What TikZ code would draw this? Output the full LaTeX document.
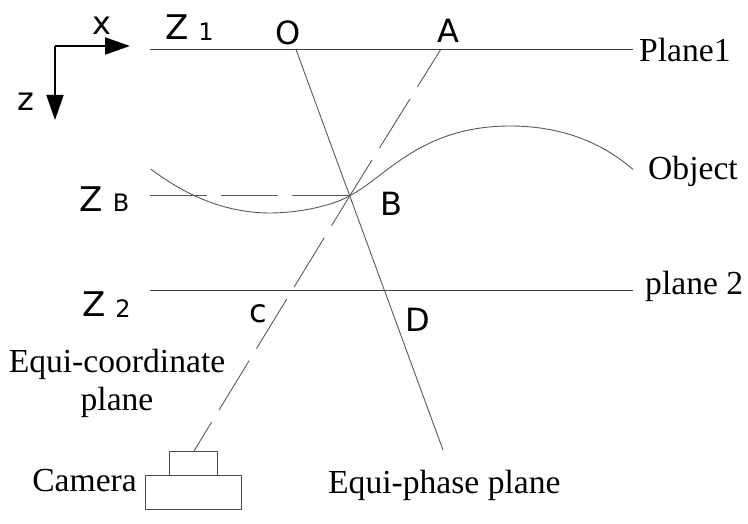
\documentclass[tikz,border=0pt]{standalone}
\usepackage{fontspec}
\setmainfont{Liberation Serif}
\newfontfamily\labelfont{DejaVu Sans}
\usetikzlibrary{positioning,arrows.meta}
\tikzset{
  plane/.style={draw=black!75, line width=0.9pt},
  ray/.style={draw=black!65, line width=0.9pt},
  axis/.style={line width=1.9pt, -{Triangle[length=25pt,width=17pt]}},
  serif/.style={inner sep=0pt, font=\fontsize{33.6}{36}\selectfont},
  big/.style={inner sep=0pt, font=\labelfont\fontsize{34}{34}\selectfont},
  mid/.style={inner sep=0pt, font=\labelfont\fontsize{32}{32}\selectfont},
  sub/.style={inner sep=0pt, font=\labelfont\fontsize{24}{24}\selectfont}
}
\begin{document}
\begin{tikzpicture}[x=1pt, y=-1pt]
\useasboundingbox (0,0) rectangle (748,524);

% axes
\coordinate (corner) at (55,46);
\coordinate (xend) at (130,46);
\coordinate (zend) at (55,120);
\draw[axis] (corner) -- (xend);
\draw[axis] (corner) -- (zend);
\node[mid] (x) at (102,26) {x};
\node[mid] (z) at (26,102) {z};

% planes
\coordinate (p1l) at (150,49.5);
\coordinate (p1r) at (633,49.5);
\coordinate (p2l) at (150,290);
\coordinate (p2r) at (633,290);
\coordinate (zbl) at (150,195.5);
\coordinate (b) at (350,195.5);
\coordinate (o) at (296,49.5);
\coordinate (a) at (440.7,49.5);
\coordinate (d) at (443,450);
\coordinate (lens) at (194,451);
\draw[plane] (p1l) -- (p1r);
\draw[plane] (p2l) -- (p2r);
\draw[ray] (o) -- (d);
\draw[ray, dash pattern=on 57pt off 14pt] (zbl) -- (b);
\draw[ray, dash pattern=on 58pt off 14pt, dash phase=14pt] (a) -- (b);
\draw[ray, dash pattern=on 58pt off 14pt, dash phase=24pt] (lens) -- (b);

% object
\coordinate (s1) at (150.7,169);
\coordinate (s2) at (270,213);
\coordinate (s3) at (510,126);
\coordinate (s4) at (633,169.5);
\draw[ray] (s1) .. controls (185,195) and (225,213) .. (s2)
  .. controls (300,213) and (335,205) .. (b)
  .. controls (385,178) and (420,126) .. (s3)
  .. controls (565,126) and (605,145) .. (s4);

% camera
\node[draw=black!70, line width=0.9pt, minimum width=48.5pt, minimum height=24pt, inner sep=0pt] (top) at (193.2,463) {};
\node[draw=black!70, line width=0.9pt, minimum width=95.5pt, minimum height=34pt, inner sep=0pt, below=0pt of top] (base) {};

% labels
\node[big] (z1) at (177,27) {Z};
\node[sub] (n1) at (206,32) {1};
\node[big] (zb) at (91,199) {Z};
\node[sub] (nb) at (121,203) {B};
\node[big] (z2) at (94,304) {Z};
\node[sub] (n2) at (123,309) {2};
\node[mid] (lo) at (288,33) {O};
\node[mid] (la) at (448,31) {A};
\node[mid] (lb) at (391,204) {B};
\node[mid] (lc) at (258,314) {c};
\node[mid] (ld) at (418,320) {D};
\node[serif, anchor=west] (plane1) at (639,50) {Plane1};
\node[serif, anchor=west] (object) at (648,171) {Object};
\node[serif, anchor=west] (plane2) at (645,286) {plane 2};
\node[serif] (eqc) at (117,364) {Equi-coordinate};
\node[serif] (eqp) at (117,402) {plane};
\node[serif, anchor=east] (cam) at (137,481) {Camera};
\node[serif, anchor=west] (eqph) at (328,485) {Equi-phase plane};
\end{tikzpicture}
\end{document}
